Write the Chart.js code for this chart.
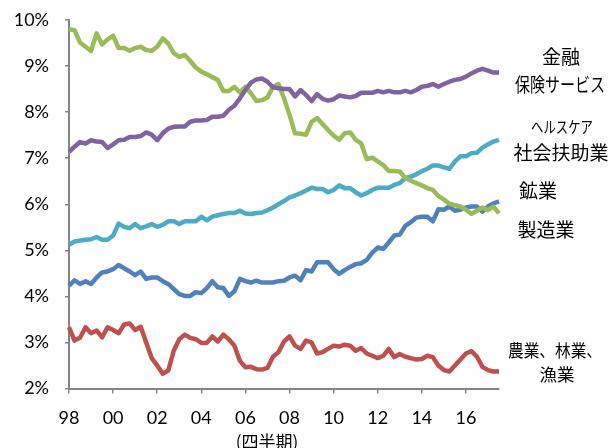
<!DOCTYPE html>
<html>
<head>
<meta charset="utf-8">
<script src="https://cdn.jsdelivr.net/npm/chart.js@4.4.1/dist/chart.umd.min.js"></script>
<style>
  html, body { margin: 0; padding: 0; background: #ffffff; }
  #wrap { width: 610px; height: 448px; position: relative; }
</style>
</head>
<body>
<div id="wrap"><canvas id="chart" width="610" height="448"></canvas></div>
<script>
// Quarterly series, 1998Q1 – 2017Q3 (share of total, %)
const startYear = 1998;
const quarterCount = 79;
const quarters = [];
for (let i = 0; i < quarterCount; i++) {
  quarters.push((startYear + Math.floor(i / 4)) + 'Q' + (i % 4 + 1));
}

// x-axis labels, one every two years (first quarter)
const yearTickLabels = ['98', '00', '02', '04', '06', '08', '10', '12', '14', '16'];

const seriesNames = ['金融保険サービス', '製造業', 'ヘルスケア社会扶助業', '鉱業', '農業、林業、漁業'];

const finance = [
  7.14, 7.25, 7.35, 7.32, 7.39, 7.36, 7.35, 7.22, 7.30, 7.39,
  7.40, 7.46, 7.46, 7.48, 7.56, 7.51, 7.39, 7.54, 7.64, 7.68,
  7.69, 7.69, 7.79, 7.82, 7.82, 7.83, 7.90, 7.90, 7.92, 8.05,
  8.14, 8.30, 8.48, 8.64, 8.71, 8.73, 8.66, 8.54, 8.52, 8.50,
  8.50, 8.34, 8.48, 8.37, 8.24, 8.39, 8.29, 8.25, 8.28, 8.36,
  8.34, 8.32, 8.35, 8.42, 8.42, 8.42, 8.46, 8.43, 8.46, 8.43,
  8.43, 8.46, 8.43, 8.48, 8.55, 8.57, 8.61, 8.55, 8.61, 8.66,
  8.70, 8.72, 8.77, 8.84, 8.90, 8.94, 8.90, 8.86, 8.86
];

const manufacturing = [
  9.80, 9.78, 9.51, 9.42, 9.33, 9.71, 9.47, 9.58, 9.66, 9.39,
  9.39, 9.33, 9.39, 9.42, 9.35, 9.33, 9.42, 9.60, 9.49, 9.28,
  9.20, 9.24, 9.11, 8.97, 8.88, 8.82, 8.76, 8.70, 8.46, 8.46,
  8.55, 8.43, 8.55, 8.41, 8.24, 8.26, 8.32, 8.55, 8.61, 8.30,
  7.94, 7.54, 7.53, 7.51, 7.79, 7.87, 7.74, 7.61, 7.49, 7.40,
  7.54, 7.56, 7.40, 7.32, 6.98, 7.01, 6.93, 6.85, 6.72, 6.72,
  6.71, 6.57, 6.51, 6.46, 6.41, 6.35, 6.31, 6.18, 6.10, 6.01,
  5.98, 5.95, 5.88, 5.79, 5.86, 5.93, 5.87, 5.95, 5.80
];

const healthcare = [
  5.12, 5.19, 5.21, 5.23, 5.24, 5.29, 5.23, 5.23, 5.32, 5.58,
  5.51, 5.48, 5.57, 5.48, 5.52, 5.57, 5.51, 5.55, 5.63, 5.63,
  5.57, 5.63, 5.63, 5.63, 5.73, 5.65, 5.73, 5.76, 5.79, 5.81,
  5.81, 5.86, 5.80, 5.79, 5.81, 5.82, 5.87, 5.93, 6.00, 6.07,
  6.15, 6.19, 6.24, 6.30, 6.36, 6.33, 6.33, 6.26, 6.31, 6.41,
  6.35, 6.35, 6.26, 6.19, 6.24, 6.31, 6.36, 6.36, 6.36, 6.42,
  6.46, 6.57, 6.60, 6.65, 6.72, 6.77, 6.84, 6.84, 6.80, 6.77,
  6.93, 7.04, 7.04, 7.11, 7.12, 7.23, 7.30, 7.36, 7.40
];

const mining = [
  4.23, 4.35, 4.27, 4.33, 4.27, 4.41, 4.52, 4.54, 4.59, 4.68,
  4.61, 4.54, 4.46, 4.54, 4.38, 4.41, 4.41, 4.33, 4.27, 4.16,
  4.05, 4.01, 4.01, 4.09, 4.07, 4.18, 4.33, 4.20, 4.18, 4.01,
  4.11, 4.38, 4.33, 4.30, 4.34, 4.30, 4.30, 4.30, 4.33, 4.34,
  4.41, 4.45, 4.35, 4.57, 4.54, 4.74, 4.74, 4.74, 4.59, 4.49,
  4.57, 4.64, 4.70, 4.72, 4.79, 4.95, 5.06, 5.03, 5.17, 5.32,
  5.34, 5.53, 5.61, 5.71, 5.73, 5.73, 5.63, 5.89, 5.88, 5.95,
  5.86, 5.88, 5.93, 5.95, 5.95, 5.84, 5.95, 6.02, 6.06
];

const agriculture = [
  3.33, 3.04, 3.10, 3.33, 3.20, 3.26, 3.11, 3.33, 3.27, 3.20,
  3.39, 3.41, 3.27, 3.34, 3.00, 2.66, 2.50, 2.32, 2.39, 2.82,
  3.07, 3.17, 3.10, 3.07, 2.99, 2.99, 3.13, 3.02, 3.17, 3.07,
  2.93, 2.60, 2.46, 2.47, 2.42, 2.41, 2.45, 2.69, 2.79, 3.02,
  3.13, 2.93, 2.86, 3.04, 3.00, 2.76, 2.79, 2.86, 2.93, 2.91,
  2.95, 2.93, 2.82, 2.88, 2.76, 2.71, 2.66, 2.71, 2.86, 2.68,
  2.75, 2.69, 2.66, 2.63, 2.64, 2.71, 2.68, 2.50, 2.40, 2.37,
  2.50, 2.63, 2.76, 2.81, 2.69, 2.47, 2.40, 2.37, 2.37
];

// Series labels written beside the line ends (each entry: lines of text)
const sideLabelLines = [
  { lines: ['金融', '保険サービス'] },
  { lines: ['ヘルスケア', '社会扶助業'] },
  { lines: ['鉱業'] },
  { lines: ['製造業'] },
  { lines: ['農業、林業、', '漁業'] }
];
const xAxisTitle = '(四半期)';

const COLORS = {
  finance: '#8064A2',
  manufacturing: '#9BBB59',
  healthcare: '#4BACC6',
  mining: '#4F81BD',
  agriculture: '#C0504D'
};
const AXIS_GRAY = '#868686';
const JP_FONT = '"Noto Sans CJK JP", "Noto Sans", sans-serif';

// Layout of the text drawn to the right of the plot
const sideLabelLayout = [
  [{ x: 561, y: 57, size: 19, maxW: 40 }, { x: 560, y: 85, size: 19, maxW: 90 }],
  [{ x: 562, y: 127, size: 16, maxW: 62 }, { x: 561, y: 153, size: 19, maxW: 96 }],
  [{ x: 538, y: 191, size: 19, maxW: 42 }],
  [{ x: 546, y: 230, size: 19, maxW: 63 }],
  [{ x: 555, y: 350, size: 17.5, maxW: 94 }, { x: 557, y: 374, size: 17.5, maxW: 40 }]
];

const annotationPlugin = {
  id: 'sideText',
  afterDraw(chart) {
    const ctx = chart.ctx;
    ctx.save();
    ctx.fillStyle = '#000';
    ctx.textAlign = 'center';
    ctx.textBaseline = 'middle';
    sideLabelLines.forEach((item, i) => {
      item.lines.forEach((line, j) => {
        const pos = sideLabelLayout[i][j];
        ctx.font = pos.size + 'px ' + JP_FONT;
        ctx.fillText(line, pos.x, pos.y, pos.maxW);
      });
    });
    ctx.font = '17px ' + JP_FONT;
    ctx.fillText(xAxisTitle, 267, 442);
    ctx.restore();
  }
};

const makeSet = (label, data, color) => ({
  label, data,
  borderColor: color,
  backgroundColor: color,
  borderWidth: 4.5,
  pointRadius: 0,
  fill: false,
  tension: 0
});

new Chart(document.getElementById('chart'), {
  type: 'line',
  data: {
    labels: quarters,
    datasets: [
      makeSet(seriesNames[0], finance, COLORS.finance),
      makeSet(seriesNames[1], manufacturing, COLORS.manufacturing),
      makeSet(seriesNames[2], healthcare, COLORS.healthcare),
      makeSet(seriesNames[3], mining, COLORS.mining),
      makeSet(seriesNames[4], agriculture, COLORS.agriculture)
    ]
  },
  options: {
    responsive: false,
    animation: false,
    devicePixelRatio: 1,
    layout: { padding: { top: 20, right: 111, left: 0, bottom: 0 } },
    plugins: { legend: { display: false }, tooltip: { enabled: false } },
    elements: { line: { borderJoinStyle: 'round', borderCapStyle: 'butt' } },
    scales: {
      x: {
        type: 'category',
        offset: false,
        grid: { drawOnChartArea: false, drawTicks: true, tickLength: 5, color: AXIS_GRAY, lineWidth: 1.5 },
        border: { display: true, color: AXIS_GRAY, width: 2 },
        ticks: {
          autoSkip: false,
          maxRotation: 0,
          minRotation: 0,
          padding: 14,
          color: '#000',
          font: { family: 'Lato', size: 18 },
          callback: (value, index) => (index % 8 === 0 ? yearTickLabels[index / 8] : null)
        },
        afterFit: (scale) => { scale.height = 59.5; }
      },
      y: {
        min: 2,
        max: 10,
        grid: { drawOnChartArea: false, drawTicks: true, tickLength: 4, color: AXIS_GRAY, lineWidth: 1.5 },
        border: { display: true, color: AXIS_GRAY, width: 2 },
        ticks: {
          stepSize: 1,
          padding: 16,
          color: '#000',
          font: { family: 'Lato', size: 18 },
          callback: (v) => v + '%'
        },
        afterFit: (scale) => {
          scale.width = 69;
          // the plot edges come from the layout padding alone
          scale.paddingTop = 0;
          scale.paddingBottom = 0;
        }
      }
    }
  },
  plugins: [annotationPlugin]
});
</script>
</body>
</html>
